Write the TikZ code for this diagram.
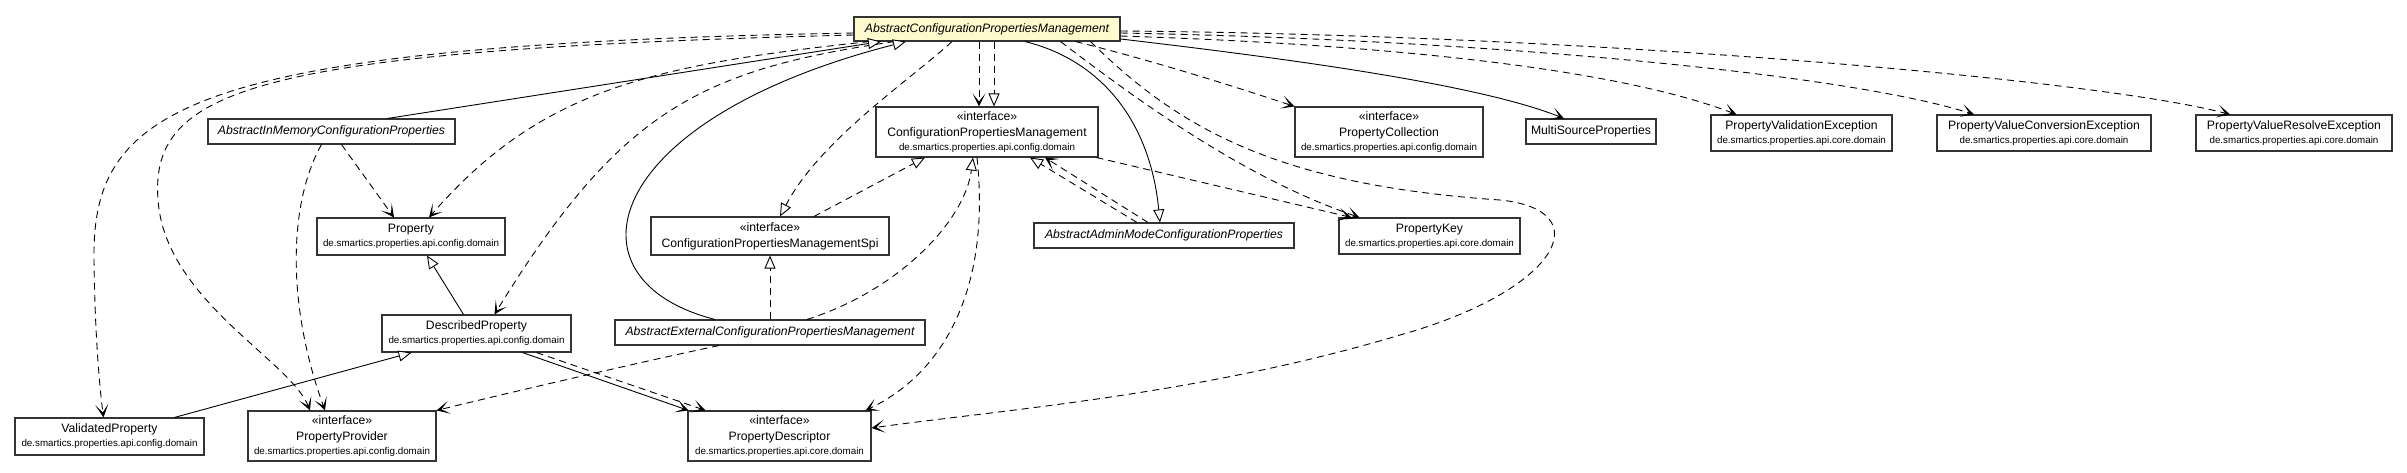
\documentclass[tikz,border=0pt]{standalone}
\usepackage{fontspec}
\setmainfont{Liberation Sans}
\usepackage{tikz}
\usetikzlibrary{arrows.meta, calc}
\definecolor{h}{HTML}{FFFACD}
\definecolor{b}{HTML}{333333}

\tikzset{
  cls/.style 2 args={draw=b, line width=1.1pt, fill=white, align=center, inner sep=0pt,
    minimum width=#1, minimum height=#2, font=\fontsize{12.2}{14}\selectfont},
  abs/.style={font=\fontsize{12.2}{14}\selectfont\itshape},
  dep/.style={dash pattern=on 7pt off 5pt, -{Stealth[length=13pt,width=13pt,inset=8pt]}},
  assoc/.style={-{Stealth[length=13pt,width=13pt,inset=8pt]}},
  ext/.style={-{Triangle[length=13pt,width=11pt,fill=white]}},
  impl/.style={dash pattern=on 7pt off 5pt, -{Triangle[length=13pt,width=11pt,fill=white]}},
}
\newcommand{\pk}[1]{{\fontsize{9.8}{14}\selectfont #1}}
\newcommand{\ifc}{«interface»\\[2pt]}

\begin{document}
\begin{tikzpicture}[x=1pt, y=-1pt, line width=0.9pt]
\path[use as bounding box, fill=white] (0,0) rectangle (2407,472);

% the classes, top row
\node[cls={266pt}{24pt}, abs, fill=h] (acpm) at (987,29) {AbstractConfigurationPropertiesManagement};
\node[cls={247pt}{25pt}, abs] (aim) at (331.5,131.5) {AbstractInMemoryConfigurationProperties};
\node[cls={222pt}{50pt}] (cpm) at (987,132) {\ifc ConfigurationPropertiesManagement\\\pk{de.smartics.properties.api.config.domain}};
\node[cls={188pt}{50pt}] (pcoll) at (1389,132) {\ifc PropertyCollection\\\pk{de.smartics.properties.api.config.domain}};
\node[cls={130pt}{25pt}] (msp) at (1591,131.5) {MultiSourceProperties};
\node[cls={181pt}{36pt}] (pve) at (1801.5,133) {PropertyValidationException\\\pk{de.smartics.properties.api.core.domain}};
\node[cls={214pt}{36pt}] (pvconv) at (2044,133) {PropertyValueConversionException\\\pk{de.smartics.properties.api.core.domain}};
\node[cls={196pt}{36pt}] (pvres) at (2294,133) {PropertyValueResolveException\\\pk{de.smartics.properties.api.core.domain}};

% middle row
\node[cls={188pt}{37pt}] (prop) at (411,236.5) {Property\\\pk{de.smartics.properties.api.config.domain}};
\node[cls={238pt}{38pt}] (spi) at (770,236) {\ifc ConfigurationPropertiesManagementSpi};
\node[cls={260pt}{25pt}, abs] (admin) at (1164,235.5) {AbstractAdminModeConfigurationProperties};
\node[cls={181pt}{36pt}] (pkey) at (1429.5,236) {PropertyKey\\\pk{de.smartics.properties.api.core.domain}};
\node[cls={189pt}{37pt}] (dprop) at (476.5,333.5) {DescribedProperty\\\pk{de.smartics.properties.api.config.domain}};
\node[cls={310pt}{25pt}, abs] (ext) at (770,332.5) {AbstractExternalConfigurationPropertiesManagement};

% bottom row
\node[cls={189pt}{37pt}] (vprop) at (109.5,436.5) {ValidatedProperty\\\pk{de.smartics.properties.api.config.domain}};
\node[cls={188pt}{50pt}] (pprov) at (342,436) {\ifc PropertyProvider\\\pk{de.smartics.properties.api.config.domain}};
\node[cls={183pt}{50pt}] (pdesc) at (779.5,436) {\ifc PropertyDescriptor\\\pk{de.smartics.properties.api.core.domain}};

% dependencies going left
\draw[dep] ([yshift=-4pt]acpm.west) .. controls (180,45) and (92,110) .. (94,260) .. controls (95,340) and (100,390) .. ([xshift=-6pt]vprop.north);
\draw[dep] ([yshift=-6pt]acpm.west) .. controls (250,50) and (150,90) .. (158,200) .. controls (165,300) and (290,360) .. ([xshift=-32pt]pprov.north);
\draw[dep] ([xshift=16pt]acpm.south west) .. controls (650,65) and (540,90) .. ([xshift=18pt]prop.north);
\draw[dep] ([xshift=41pt]acpm.south west) .. controls (700,70) and (620,110) .. ([xshift=18pt]dprop.north);
\draw[ext] ([xshift=56pt]aim.north) -- ([xshift=-106pt]acpm.south);
\draw[dep] ([xshift=10pt]aim.south) -- ([xshift=-17pt]prop.north);
\draw[dep] ([xshift=-10pt]aim.south) .. controls (290,200) and (285,300) .. ([xshift=-17pt]pprov.north);
\draw[ext] ([xshift=-55pt]ext.north) .. controls (560,280) and (600,120) .. ([xshift=-81pt]acpm.south);
\draw[impl] ([xshift=-35pt]acpm.south) .. controls (910,80) and (820,140) .. ([xshift=10pt]spi.north);

% the interfaces in the middle
\draw[dep] ([xshift=-8pt]acpm.south) -- ([xshift=-8pt]cpm.north);
\draw[impl] ([xshift=7pt]acpm.south) -- ([xshift=7pt]cpm.north);
\draw[impl] ([xshift=44pt]spi.north) -- ([xshift=-62pt]cpm.south);
\draw[impl] (ext.north) -- (spi.south);
\draw[impl] ([xshift=37pt]ext.north) .. controls (900,290) and (965,220) .. ([xshift=-14pt]cpm.south);
\draw[impl] ([xshift=-27pt]admin.north) -- ([xshift=43pt]cpm.south);
\draw[dep] ([xshift=-16pt]admin.north) -- ([xshift=58pt]cpm.south);
\draw[ext] ([xshift=38pt]acpm.south) .. controls (1100,60) and (1150,120) .. ([xshift=-4pt]admin.north);
\draw[dep] ([xshift=-2pt]cpm.south east) -- ([xshift=-78pt]pkey.north);
\draw[dep] ([xshift=-10pt]cpm.south) .. controls (990,280) and (950,370) .. ([xshift=-6pt]pdesc.north east);

% dependencies going right
\draw[dep] ([xshift=-60pt]acpm.south east) .. controls (1150,110) and (1250,180) .. ([xshift=-70pt]pkey.north);
\draw[dep] ([xshift=-45pt]acpm.south east) .. controls (1150,60) and (1230,85) .. (pcoll.north west);
\draw[dep] ([xshift=-30pt]acpm.south east) .. controls (1180,130) and (1280,185) .. (1500,200) .. controls (1600,210) and (1560,290) .. (1400,335) .. controls (1200,395) and (1000,410) .. ([yshift=8pt]pdesc.east);
\draw[assoc] ([yshift=-10pt]acpm.east) .. controls (1300,60) and (1480,85) .. ([xshift=-27pt]msp.north);
\draw[dep] ([yshift=-7pt]acpm.east) .. controls (1400,45) and (1620,70) .. ([xshift=-65pt]pve.north);
\draw[dep] ([yshift=-4pt]acpm.east) .. controls (1500,40) and (1850,75) .. ([xshift=-70pt]pvconv.north);
\draw[dep] ([yshift=-2pt]acpm.east) .. controls (1600,35) and (2100,80) .. ([xshift=-64pt]pvres.north);

% the property classes
\draw[ext] ([xshift=-13pt]dprop.north) -- ([xshift=16pt]prop.south);
\draw[ext] ([xshift=65pt]vprop.north) -- ([xshift=-65pt]dprop.south);
\draw[assoc] ([xshift=46pt]dprop.south) -- ([xshift=-91pt]pdesc.north);
\draw[dep] ([xshift=60pt]dprop.south) -- ([xshift=-74pt]pdesc.north);
\draw[dep] ([xshift=-51pt]ext.south) .. controls (650,360) and (520,390) .. (pprov.north east);

\end{tikzpicture}
\end{document}
